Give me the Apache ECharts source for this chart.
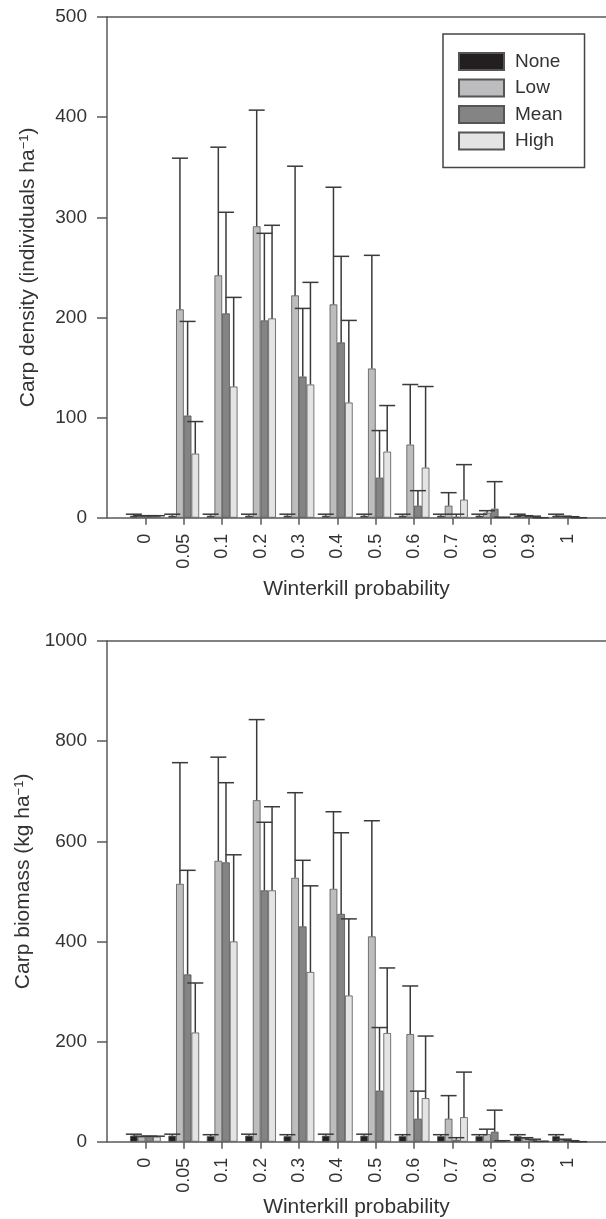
<!DOCTYPE html>
<html>
<head>
<meta charset="utf-8">
<script src="https://cdn.jsdelivr.net/npm/echarts@6/dist/echarts.min.js"></script>
<style>
html,body{margin:0;padding:0;background:#fff;}
#c{width:606px;height:1219px;}
</style>
</head>
<body>
<div id="c"></div>
<script>
// ---- data ----
const categories = ['0','0.05','0.1','0.2','0.3','0.4','0.5','0.6','0.7','0.8','0.9','1'];
const seriesNames = ['None','Low','Mean','High'];

// Carp density (individuals ha-1): means and upper error limits
const densNone    = [2, 2, 2, 2, 2, 2, 2, 2, 2, 2, 2, 2];
const densNoneUp  = [3.5, 3.5, 3.5, 3.5, 3.5, 3.5, 3.5, 3.5, 3.5, 3.5, 3.5, 3.5];
const densLow     = [1.5, 208, 242, 291, 222, 213, 149, 73, 12, 5, 1, 1];
const densLowUp   = [2, 359, 370, 407, 351, 330, 262, 133, 25, 7, 2, 1.5];
const densMean    = [1.5, 102, 204, 197, 141, 175, 40, 12, 1, 9, 1, 0.5];
const densMeanUp  = [2, 196, 305, 284, 209, 261, 87, 27, 3.5, 36, 1.5, 1];
const densHigh    = [1.5, 64, 131, 199, 133, 115, 66, 50, 18, 0.3, 0, 0];
const densHighUp  = [2, 96, 220, 292, 235, 197, 112, 131, 53, 0.5, 0, 0];

// Carp biomass (kg ha-1): means and upper error limits
const bioNone     = [12, 12, 11, 12, 11, 12, 12, 11, 11, 11, 11, 11];
const bioNoneUp   = [15, 15, 14, 15, 14, 15, 15, 14, 14, 14, 14, 14];
const bioLow      = [10, 515, 561, 682, 527, 505, 410, 215, 46, 15, 7, 3];
const bioLowUp    = [11, 757, 768, 843, 697, 659, 641, 311, 92, 25, 8, 5];
const bioMean     = [10, 334, 558, 502, 430, 455, 102, 46, 4, 20, 4, 1];
const bioMeanUp   = [11, 542, 717, 638, 562, 617, 228, 101, 8, 63, 5, 2];
const bioHigh     = [10, 218, 400, 502, 339, 292, 217, 87, 49, 1, 0.5, 0];
const bioHighUp   = [11, 317, 573, 669, 511, 445, 347, 211, 139, 2, 1, 0];

const densTicks = [0, 100, 200, 300, 400, 500];
const bioTicks  = [0, 200, 400, 600, 800, 1000];

// ---- styles ----
const colors = ['#231f20', '#bdbdbf', '#848484', '#e4e4e4'];
const axisColor = '#5a5a5a';
const textColor = '#333';
const font = 'Liberation Sans, Arial, sans-serif';

// padded category axis (one empty slot each side)
const xCats = [''].concat(categories, ['']);
const pad = arr => [null].concat(arr, [null]);

function errRender(k) {
  return function (params, api) {
    const x = api.value(0), v = api.value(1), u = api.value(2);
    const band = api.size([1, 0])[0];
    const bw = band * 0.8 / 4;
    const p0 = api.coord([x, v]);
    const p1 = api.coord([x, u]);
    const cx = p0[0] + (k - 1.5) * bw;
    const half = 8;
    const st = { stroke: '#3a3a3a', lineWidth: 1.5 };
    return {
      type: 'group',
      children: [
        { type: 'line', shape: { x1: cx, y1: p0[1], x2: cx, y2: p1[1] }, style: st },
        { type: 'line', shape: { x1: cx - half, y1: p1[1], x2: cx + half, y2: p1[1] }, style: st }
      ]
    };
  };
}

function makeX(gridIndex, name, nameGap) {
  return [{
    type: 'category', gridIndex: gridIndex, data: xCats, boundaryGap: false,
    position: 'bottom',
    axisLine: { show: true, lineStyle: { color: axisColor, width: 1.5 } },
    axisTick: { show: true, length: 7, inside: false, lineStyle: { color: axisColor, width: 1.5 },
      interval: function (i) { return i > 0 && i < xCats.length - 1; } },
    axisLabel: { show: true, rotate: 90, fontSize: 18, color: textColor, fontFamily: font, margin: 16,
      interval: 0 },
    splitLine: { show: false },
    name: name, nameLocation: 'middle', nameGap: nameGap,
    nameTextStyle: { fontSize: 21, color: textColor, fontFamily: font }
  }, {
    type: 'category', gridIndex: gridIndex, data: xCats, boundaryGap: false,
    position: 'top',
    axisLine: { show: true, lineStyle: { color: axisColor, width: 1.5 } },
    axisTick: { show: false }, axisLabel: { show: false }, splitLine: { show: false }
  }];
}

function makeY(gridIndex, ticks, nameMain, namePad, nameGap) {
  return {
    type: 'value', gridIndex: gridIndex, min: ticks[0], max: ticks[ticks.length - 1],
    interval: ticks[1] - ticks[0],
    axisLine: { show: true, lineStyle: { color: axisColor, width: 1.5 } },
    axisTick: { show: true, length: 10, inside: false, lineStyle: { color: axisColor, width: 1.5 } },
    axisLabel: { fontSize: 19, color: textColor, fontFamily: font, margin: 20,
      formatter: function (v) { return String(v); } },
    splitLine: { show: false },
    name: nameMain + '{sup|\u22121})', nameLocation: 'middle', nameGap: nameGap,
    nameTextStyle: { fontSize: 21, color: textColor, fontFamily: font, padding: namePad,
      rich: { sup: { fontSize: 13, color: textColor, fontFamily: font, verticalAlign: 'top', lineHeight: 14 } } }
  };
}

const densSets = [[densNone, densNoneUp], [densLow, densLowUp], [densMean, densMeanUp], [densHigh, densHighUp]];
const bioSets  = [[bioNone, bioNoneUp], [bioLow, bioLowUp], [bioMean, bioMeanUp], [bioHigh, bioHighUp]];

const series = [];
[[densSets, 0, 0], [bioSets, 2, 1]].forEach(function (cfg) {
  const sets = cfg[0], xi = cfg[1], yi = cfg[2];
  sets.forEach(function (s, k) {
    series.push({
      type: 'bar', name: seriesNames[k], xAxisIndex: xi, yAxisIndex: yi,
      data: pad(s[0]), barGap: '0%', barCategoryGap: '20%',
      itemStyle: { color: colors[k], borderColor: '#555', borderWidth: 0.8 },
      emphasis: { disabled: true }, animation: false, z: 2
    });
  });
  sets.forEach(function (s, k) {
    series.push({
      type: 'custom', xAxisIndex: xi, yAxisIndex: yi,
      renderItem: errRender(k),
      data: s[0].map(function (v, i) { return [i + 1, v, s[1][i]]; }),
      animation: false, z: 5, silent: true
    });
  });
});

const option = {
  backgroundColor: '#fff',
  animation: false,
  textStyle: { fontFamily: font },
  grid: [
    { left: 107, top: 17, width: 500, height: 500.7, containLabel: false },
    { left: 107, top: 641, width: 500, height: 500.7, containLabel: false }
  ],
  xAxis: makeX(0, 'Winterkill probability', 61).concat(makeX(1, 'Winterkill probability', 50)),
  yAxis: [
    makeY(0, densTicks, 'Carp density (individuals ha', [0, 0, 0, 0], 68),
    makeY(1, bioTicks, 'Carp biomass (kg ha', [0, 0, 0, 20], 64)
  ],
  legend: {
    data: seriesNames, orient: 'vertical', left: 443, top: 34,
    itemWidth: 45, itemHeight: 17, itemGap: 7.5,
    padding: [18, 22, 17, 15],
    borderColor: '#444', borderWidth: 1.5,
    icon: 'rect', selectedMode: false,
    textStyle: { fontSize: 19, color: textColor, fontFamily: font, lineHeight: 17, padding: [0, 0, 0, 6] }
  },
  series: series
};

const chart = echarts.init(document.getElementById('c'), null, { renderer: 'canvas' });
chart.setOption(option);
</script>
</body>
</html>
